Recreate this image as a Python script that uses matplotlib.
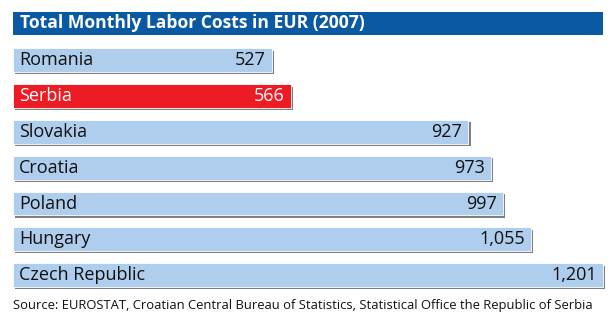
import matplotlib.pyplot as plt
import matplotlib.patches as mpatches
import matplotlib.patheffects as pe

countries = ["Romania", "Serbia", "Slovakia", "Croatia", "Poland", "Hungary", "Czech Republic"]
costs = [527, 566, 927, 973, 997, 1055, 1201]
highlight = "Serbia"

title = "Total Monthly Labor Costs in EUR (2007)"
source = ("Source: EUROSTAT, Croatian Central Bureau of Statistics, "
          "Statistical Office the Republic of Serbia")

plt.rcParams["font.family"] = ["Open Sans", "DejaVu Sans"]

W, H = 615, 326
fig = plt.figure(figsize=(W / 100, H / 100), dpi=100)

# title band
fig.patches.append(mpatches.Rectangle((13 / W, 1 - 35 / H), 590 / W, 23 / H,
                                      transform=fig.transFigure,
                                      facecolor="#0a5aa3", edgecolor="none"))
fig.text(20 / W, 1 - 23.5 / H, title, color="white", fontsize=12.6,
         fontweight="bold", va="center", ha="left")

ax = fig.add_axes([13 / W, 1 - 293 / H, 590 / W, 250.6 / H])
ax.set_xlim(0, max(costs))
ax.set_ylim(len(countries) - 0.5, -0.5)
ax.axis("off")

shadow = [pe.SimplePatchShadow(offset=(1.6, -1.6), shadow_rgbFace="#7f7f7f", alpha=1),
          pe.Normal()]
for i, (name, val) in enumerate(zip(countries, costs)):
    is_hl = name == highlight
    color = "#ed1c24" if is_hl else "#afcdec"
    txt = "white" if is_hl else "#111111"
    bar = ax.barh(i, val, height=0.66, color=color, edgecolor="white", linewidth=0.6)
    for p in bar.patches:
        p.set_path_effects(shadow)
        p.set_clip_on(False)
    ax.annotate(name, (0, i), xytext=(4.5, 0), textcoords="offset points",
                va="center", ha="left", fontsize=13, color=txt)
    ax.annotate(f"{val:,}", (val, i), xytext=(-4.5, 0), textcoords="offset points",
                va="center", ha="right", fontsize=13, color=txt)

fig.text(13 / W, 1 - 305 / H, source, fontsize=9.4, va="center", ha="left",
         color="#111111")

fig.savefig("out.png", dpi=100, facecolor="white")
